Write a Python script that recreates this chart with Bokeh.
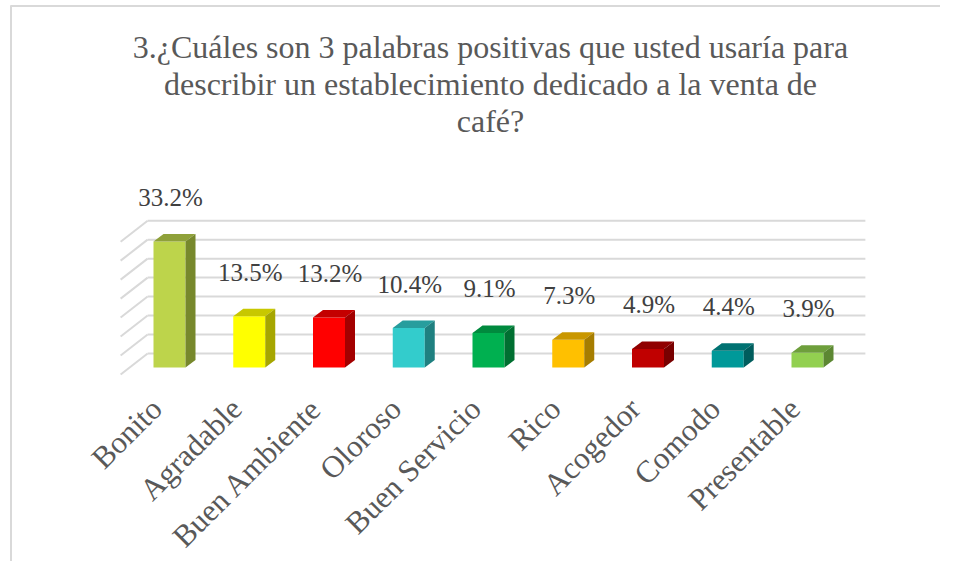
import numpy as np
from bokeh.plotting import figure
from bokeh.models import ColumnDataSource
from bokeh.core.properties import value
from bokeh.embed import file_html
from bokeh.resources import INLINE

# ---- data ----
categories = ["Bonito", "Agradable", "Buen Ambiente", "Oloroso", "Buen Servicio",
              "Rico", "Acogedor", "Comodo", "Presentable"]
values = [33.2, 13.5, 13.2, 10.4, 9.1, 7.3, 4.9, 4.4, 3.9]
value_labels = ["33.2%", "13.5%", "13.2%", "10.4%", "9.1%", "7.3%", "4.9%", "4.4%", "3.9%"]
front_colors = ["#BDD44B", "#FFFF00", "#FF0000", "#33CCCC", "#00B050",
                "#FFC000", "#C00000", "#009999", "#92D050"]
top_colors = ["#8FA13A", "#C8C800", "#C40000", "#279D9D", "#008A3E",
              "#C99700", "#900000", "#007272", "#6E9F3C"]
side_colors = ["#77882C", "#A6A600", "#A30000", "#1F8080", "#006F31",
               "#A67D00", "#780000", "#005D5D", "#5C8732"]
grid_values = [0, 5, 10, 15, 20, 25, 30, 35]
title_lines = ["3.¿Cuáles son 3 palabras positivas que usted usaría para",
               "describir un establecimiento dedicado a la venta de",
               "café?"]

# ---- layout / styling (pixel constants) ----
FONT = "Liberation Serif"
W, H = 940, 561
PX_X, PX_Y = 79.75, 3.795        # pixels per category / per percent point
ORIGIN_X, ORIGIN_Y = 169, 367    # pixel position of category 0 / value 0
X0 = -ORIGIN_X / PX_X
X1 = X0 + W / PX_X
Y1 = ORIGIN_Y / PX_Y
Y0 = Y1 - H / PX_Y

def px_dx(d): return d / PX_X
def px_dy(d): return d / PX_Y
def at_x(px): return (px - ORIGIN_X) / PX_X
def at_y(py): return (ORIGIN_Y - py) / PX_Y

half_w = px_dx(16)                        # half width of bar front face
bdx, bdy = px_dx(10), px_dy(7.5)          # bar depth
wdx, wdy = px_dx(18), px_dy(14)           # bar front plane -> back wall
fdx, fdy = px_dx(-9), px_dy(-7)           # bar front plane -> floor front edge

p = figure(width=W, height=H, x_range=(X0, X1), y_range=(Y0, Y1),
           output_backend="svg", toolbar_location=None,
           min_border_left=0, min_border_right=0, min_border_top=0, min_border_bottom=0)
p.outline_line_color = None
p.background_fill_color = "white"
p.border_fill_color = "white"
p.grid.visible = False
p.axis.visible = False

# chart-area border (top and left edges visible)
p.segment(x0=[at_x(10), at_x(10.5)], y0=[at_y(5.5), at_y(5)], x1=[at_x(W), at_x(10.5)], y1=[at_y(5.5), at_y(H)],
          line_color="#D9D9D9", line_width=2)

# title
title_y = [at_y(46), at_y(83), at_y(120)]
p.text(x=[at_x(490)] * 3, y=title_y, text=title_lines, text_align="center",
       text_baseline="alphabetic", text_font=value(FONT), text_font_size="32px",
       text_color="#595959")

xs_idx = np.arange(len(categories), dtype=float)
vals = np.array(values, dtype=float)
n_cat = len(categories)

# back wall gridlines and side wall diagonals
g = np.array(grid_values, dtype=float)
n_g = len(g)
p.segment(x0=[-0.5 + wdx] * n_g, y0=g + wdy, x1=[n_cat - 0.5 + wdx] * n_g, y1=g + wdy,
          line_color="#D9D9D9", line_width=2)
p.segment(x0=[-0.5 + fdx] * n_g, y0=g + fdy, x1=[-0.5 + wdx] * n_g, y1=g + wdy,
          line_color="#D9D9D9", line_width=2)

# bars: front, top, side
src = ColumnDataSource(dict(x=xs_idx, top=vals, color=front_colors))
p.vbar(x="x", top="top", bottom=0, width=2 * half_w, fill_color="color", line_color=None, source=src)
top_xs = [[x - half_w, x + half_w, x + half_w + bdx, x - half_w + bdx] for x in xs_idx]
top_ys = [[v, v, v + bdy, v + bdy] for v in vals]
p.patches(top_xs, top_ys, fill_color=top_colors, line_color=None)
side_xs = [[x + half_w, x + half_w + bdx, x + half_w + bdx, x + half_w] for x in xs_idx]
side_ys = [[0, bdy, v + bdy, v] for v in vals]
p.patches(side_xs, side_ys, fill_color=side_colors, line_color=None)

# data labels
p.text(x=xs_idx + px_dx(1), y=vals + px_dy(44), text=value_labels, text_align="center",
       text_baseline="middle", text_font=value(FONT), text_font_size="25px", text_color="#404040")

# category labels (rotated 45 degrees)
p.text(x=xs_idx - px_dx(13), y=[at_y(403)] * n_cat, text=categories, angle=np.pi / 4,
       text_align="right", text_baseline="alphabetic", text_font=value(FONT),
       text_font_size="31px", text_color="#595959")

open("out.html", "w").write(file_html(p, INLINE))
